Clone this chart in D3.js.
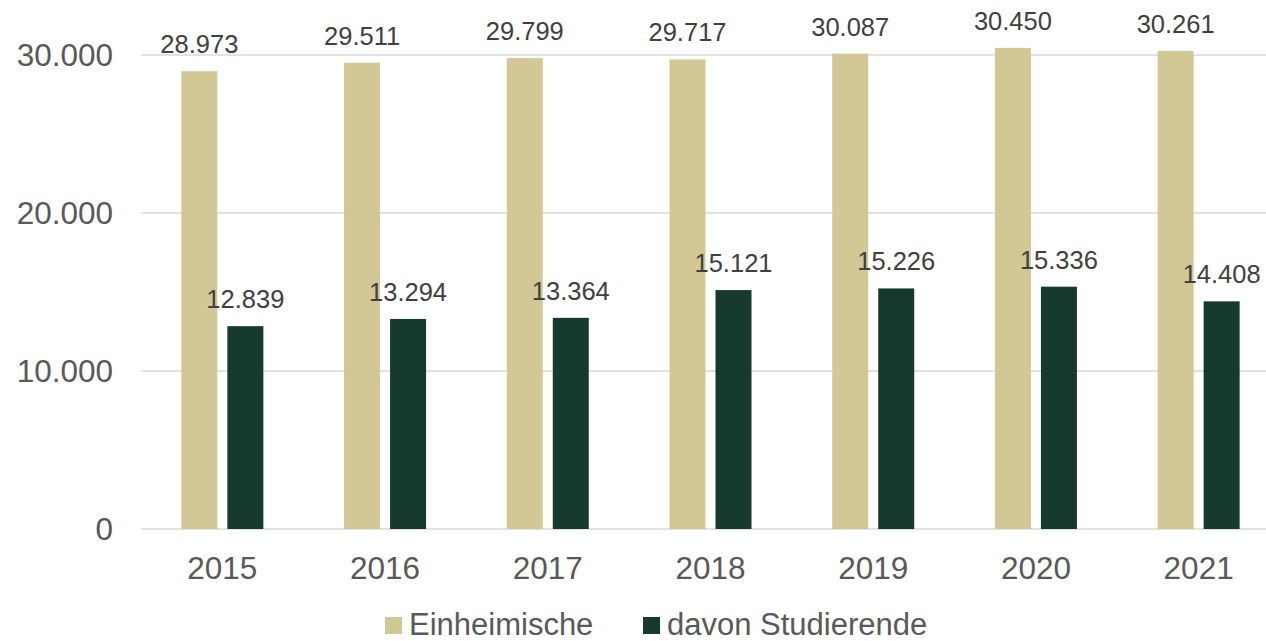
<!DOCTYPE html>
<html><head><meta charset="utf-8">
<script src="https://cdn.jsdelivr.net/npm/d3@7"></script>
<style>body{margin:0;background:#fff;overflow:hidden;}svg{display:block;font-family:"Liberation Sans",Arial,sans-serif;}</style>
</head><body>
<svg id="c" width="1266" height="641"></svg>
<script>
const years = ["2015","2016","2017","2018","2019","2020","2021"];
const einheimische = [28973,29511,29799,29717,30087,30450,30261];
const studierende = [12839,13294,13364,15121,15226,15336,14408];
const seriesNames = ["Einheimische","davon Studierende"];
const colors = ["#D1C895","#163A2E"];
const yTicks = [0,10000,20000,30000];

(function(){
const svg = d3.select("#c");
const pLeft = 141, pRight = 1280, pTop = 55, pBottom = 529;
const x = d3.scaleBand().domain(years).range([pLeft,pRight]);
const y = d3.scaleLinear().domain([0,30000]).range([pBottom,pTop]);
const fmt = d3.formatLocale({decimal:",",thousands:".",grouping:[3],currency:["","€"]}).format(",d");

svg.append("g").selectAll("line").data(yTicks).join("line")
  .attr("x1",pLeft).attr("x2",pRight)
  .attr("y1",d=>y(d)).attr("y2",d=>y(d))
  .attr("stroke","#D9D9D9").attr("stroke-width",1.5);

svg.append("g").selectAll("text").data(yTicks).join("text")
  .attr("x",113).attr("y",d=>y(d)+11)
  .attr("text-anchor","end").attr("font-size",31.5).attr("fill","#595959")
  .text(d=>fmt(d));

const bw = 36, gap = 10;
const series = [einheimische, studierende];
series.forEach((vals,si)=>{
  const g = svg.append("g");
  g.selectAll("rect").data(years).join("rect")
    .attr("x",(d)=>x(d)+x.bandwidth()/2 + (si===0 ? -gap/2-bw : gap/2))
    .attr("width",bw)
    .attr("y",(d,i)=>y(vals[i]))
    .attr("height",(d,i)=>pBottom-y(vals[i]))
    .attr("fill",colors[si]);
  g.selectAll("text").data(years).join("text")
    .attr("x",(d)=>x(d)+x.bandwidth()/2 + (si===0 ? -gap/2-bw/2 : gap/2+bw/2))
    .attr("y",(d,i)=>y(vals[i])-18)
    .attr("text-anchor","middle").attr("font-size",25.5).attr("fill","#404040")
    .text((d,i)=>fmt(vals[i]));
});

svg.append("g").selectAll("text").data(years).join("text")
  .attr("x",d=>x(d)+x.bandwidth()/2).attr("y",579)
  .attr("text-anchor","middle").attr("font-size",31.5).attr("fill","#595959")
  .text(d=>d);

const legX = [385,643];
seriesNames.forEach((n,i)=>{
  svg.append("rect").attr("x",legX[i]).attr("y",617).attr("width",17).attr("height",17).attr("fill",colors[i]);
  svg.append("text").attr("x",legX[i]+24).attr("y",634.5).attr("font-size",31).attr("fill","#595959").text(n);
});
})();
</script>
</body></html>
